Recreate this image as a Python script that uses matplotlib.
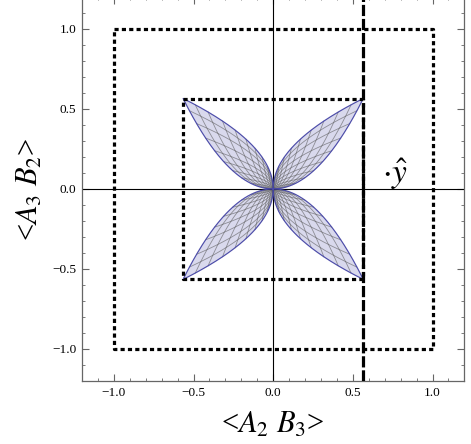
import numpy as np
from matplotlib import pyplot as plt
from matplotlib.ticker import MultipleLocator

plt.rcParams['font.family'] = ['Liberation Serif', 'DejaVu Serif']
plt.rcParams['mathtext.fontset'] = 'stix'

# chart values
X_RANGE = (-1.2, 1.2)
Y_RANGE = (-1.2, 1.2)
MAJOR_TICKS = [-1.0, -0.5, 0.0, 0.5, 1.0]
TICK_LABELS = ['\u22121.0', '\u22120.5', '0.0', '0.5', '1.0']
OUTER_HALF = 1.0          # outer dotted square
INNER_HALF = 0.565        # inner dotted square
BOUND_X = 0.565           # dashed vertical bound
PETAL_CORNER = 0.565      # petal tips at (+-c, +-c)
PETAL_SIGNS = [(1, 1), (-1, 1), (-1, -1), (1, -1)]
MESH_STEPS = [0.25, 0.35, 0.45, 0.55, 0.65, 0.75, 0.85, 0.93]
YHAT_POS = (0.68, 0.04)

FILL = '#d9d9ed'
EDGE = '#4a4aa8'


def petal(u, v, c):
    # x = c u^2 v, y = c u v^2  -> edges y = c sqrt(x/c) and y = c (x/c)^2
    return c * u * u * v, c * u * v * v


fig = plt.figure(figsize=(4.71, 4.44), dpi=100)
ax = fig.add_axes([0.174, 0.142, 0.812, 0.865])

t = np.linspace(0, 1, 200)
for sx, sy in PETAL_SIGNS:
    ux, uy = petal(np.ones_like(t), t, PETAL_CORNER)
    lx, ly = petal(t, np.ones_like(t), PETAL_CORNER)
    bx = np.concatenate([ux, lx[::-1]]) * sx
    by = np.concatenate([uy, ly[::-1]]) * sy
    ax.fill(bx, by, color=FILL, zorder=1)
    for m in MESH_STEPS:
        mx, my = petal(np.full_like(t, m), t, PETAL_CORNER)
        ax.plot(mx * sx, my * sy, color='0.35', lw=0.6, alpha=0.6, zorder=2)
        mx, my = petal(t, np.full_like(t, m), PETAL_CORNER)
        ax.plot(mx * sx, my * sy, color='0.35', lw=0.6, alpha=0.6, zorder=2)
    ax.plot(bx, by, color=EDGE, lw=0.8, zorder=3)

ax.axhline(0, color='black', lw=0.8, zorder=2)
ax.axvline(0, color='black', lw=0.8, zorder=2)

for h in [OUTER_HALF, INNER_HALF]:
    ax.plot([-h, h, h, -h, -h], [h, h, -h, -h, h], color='black', lw=2.3,
            linestyle=(0, (1.3, 1.0)), zorder=4)

ax.axvline(BOUND_X, color='black', lw=2.3, linestyle=(0, (3.5, 0.9)), zorder=4)

ax.text(YHAT_POS[0], YHAT_POS[1], r'$\cdot\hat{y}$', fontsize=24, zorder=5)

ax.set_xlim(*X_RANGE)
ax.set_ylim(*Y_RANGE)
ax.set_xticks(MAJOR_TICKS)
ax.set_yticks(MAJOR_TICKS)
ax.set_xticklabels(TICK_LABELS)
ax.set_yticklabels(TICK_LABELS)
ax.xaxis.set_minor_locator(MultipleLocator(0.1))
ax.yaxis.set_minor_locator(MultipleLocator(0.1))
ax.tick_params(which='both', direction='in', top=True, right=True,
               color='0.4', labelsize=9.5, pad=4)
ax.tick_params(which='major', length=5, width=0.8)
ax.tick_params(which='minor', length=2.5, width=0.6)
for sp in ax.spines.values():
    sp.set_color('0.4')
    sp.set_linewidth(0.9)

ax.set_xlabel(r'<$A_2\ B_3$>', fontsize=22, labelpad=9)
ax.set_ylabel(r'<$A_3\ B_2$>', fontsize=22, labelpad=5)

fig.savefig('out.png', dpi=100)
